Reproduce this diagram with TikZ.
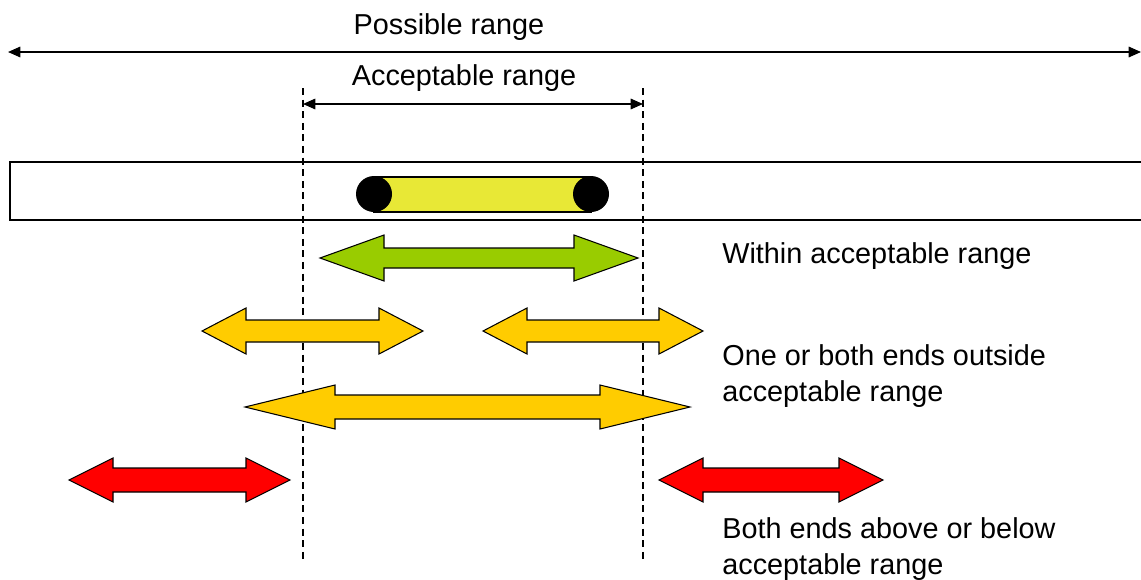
\documentclass[tikz,border=0pt]{standalone}
\usepackage{fontspec}
\setmainfont{Liberation Sans}
\usepackage{xcolor}
\usetikzlibrary{positioning, calc, arrows.meta}

\definecolor{okgreen}{HTML}{99CC00}
\definecolor{warnyellow}{HTML}{FFCC00}
\definecolor{badred}{HTML}{FF0000}
\definecolor{capsule}{HTML}{E8E836}

% fat double arrow: fill, left tip, right tip, y, head length, head half, shaft half
\newcommand{\fatarrow}[7]{%
    \filldraw[fatline, fill=#1]
        (#2,#4) -- ($(#2,#4)+(#5,-#6)$) -- ($(#2,#4)+(#5,-#7)$)
        -- ($(#3,#4)+(-#5,-#7)$) -- ($(#3,#4)+(-#5,-#6)$) -- (#3,#4)
        -- ($(#3,#4)+(-#5,#6)$) -- ($(#3,#4)+(-#5,#7)$)
        -- ($(#2,#4)+(#5,#7)$) -- ($(#2,#4)+(#5,#6)$) -- cycle;%
}

\begin{document}
\begin{tikzpicture}[
    x=0.02cm, y=-0.02cm,
    >={Triangle[length=7pt, width=6pt]},
    txt/.style={font=\fontsize{16.4}{20.4}\selectfont, inner sep=0pt},
    lbl/.style={txt, anchor=west, align=left},
    rng/.style={<->, line width=0.85pt},
    limit/.style={line width=0.7pt, dash pattern=on 4pt off 2.6pt},
    fatline/.style={line width=0.6pt, draw=black},
]
\useasboundingbox (0,0) rectangle (1141,579);

% ===== Range arrows =====
\coordinate (possL) at (8,52);
\coordinate (possR) at (1141,52);
\draw[rng] (possL) -- (possR);
\node[txt] (poss) at (449,27) {Possible range};

\coordinate (accL) at (303,104);
\coordinate (accR) at (643,104);
\draw[rng] (accL) -- (accR);
\node[txt] (acc) at (464,78) {Acceptable range};

% ===== Limits =====
\coordinate (limLtop) at (303,88);
\coordinate (limLbot) at (303,560);
\coordinate (limRtop) at (643,88);
\coordinate (limRbot) at (643,560);
\draw[limit] (limLtop) -- (limLbot);
\draw[limit] (limRtop) -- (limRbot);

% ===== Open bar with capsule =====
\draw[line width=0.85pt] (1141,162) -- (10,162) -- (10,220) -- (1141,220);
\filldraw[fill=capsule, draw=black, line width=0.6pt] (374,177) rectangle (591,212);
\fill[black] (374,194) circle [radius=18];
\fill[black] (591,194) circle [radius=18];

% ===== Fat arrows =====
\fatarrow{okgreen}{320}{638}{258}{64}{23}{10}
\fatarrow{warnyellow}{202}{423}{331}{44}{23}{11}
\fatarrow{warnyellow}{483}{703}{331}{44}{23}{11}
\fatarrow{warnyellow}{245}{690}{407}{90}{22}{12}
\fatarrow{badred}{69}{290}{480}{44}{22}{12}
\fatarrow{badred}{659}{883}{480}{44}{22}{12}

% ===== Labels =====
\node[lbl] (within) at (722,256) {Within acceptable range};
\node[lbl] (oneboth) at (722,376) {One or both ends outside\\acceptable range};
\node[lbl] (bothends) at (722,549) {Both ends above or below\\acceptable range};

\end{tikzpicture}
\end{document}
